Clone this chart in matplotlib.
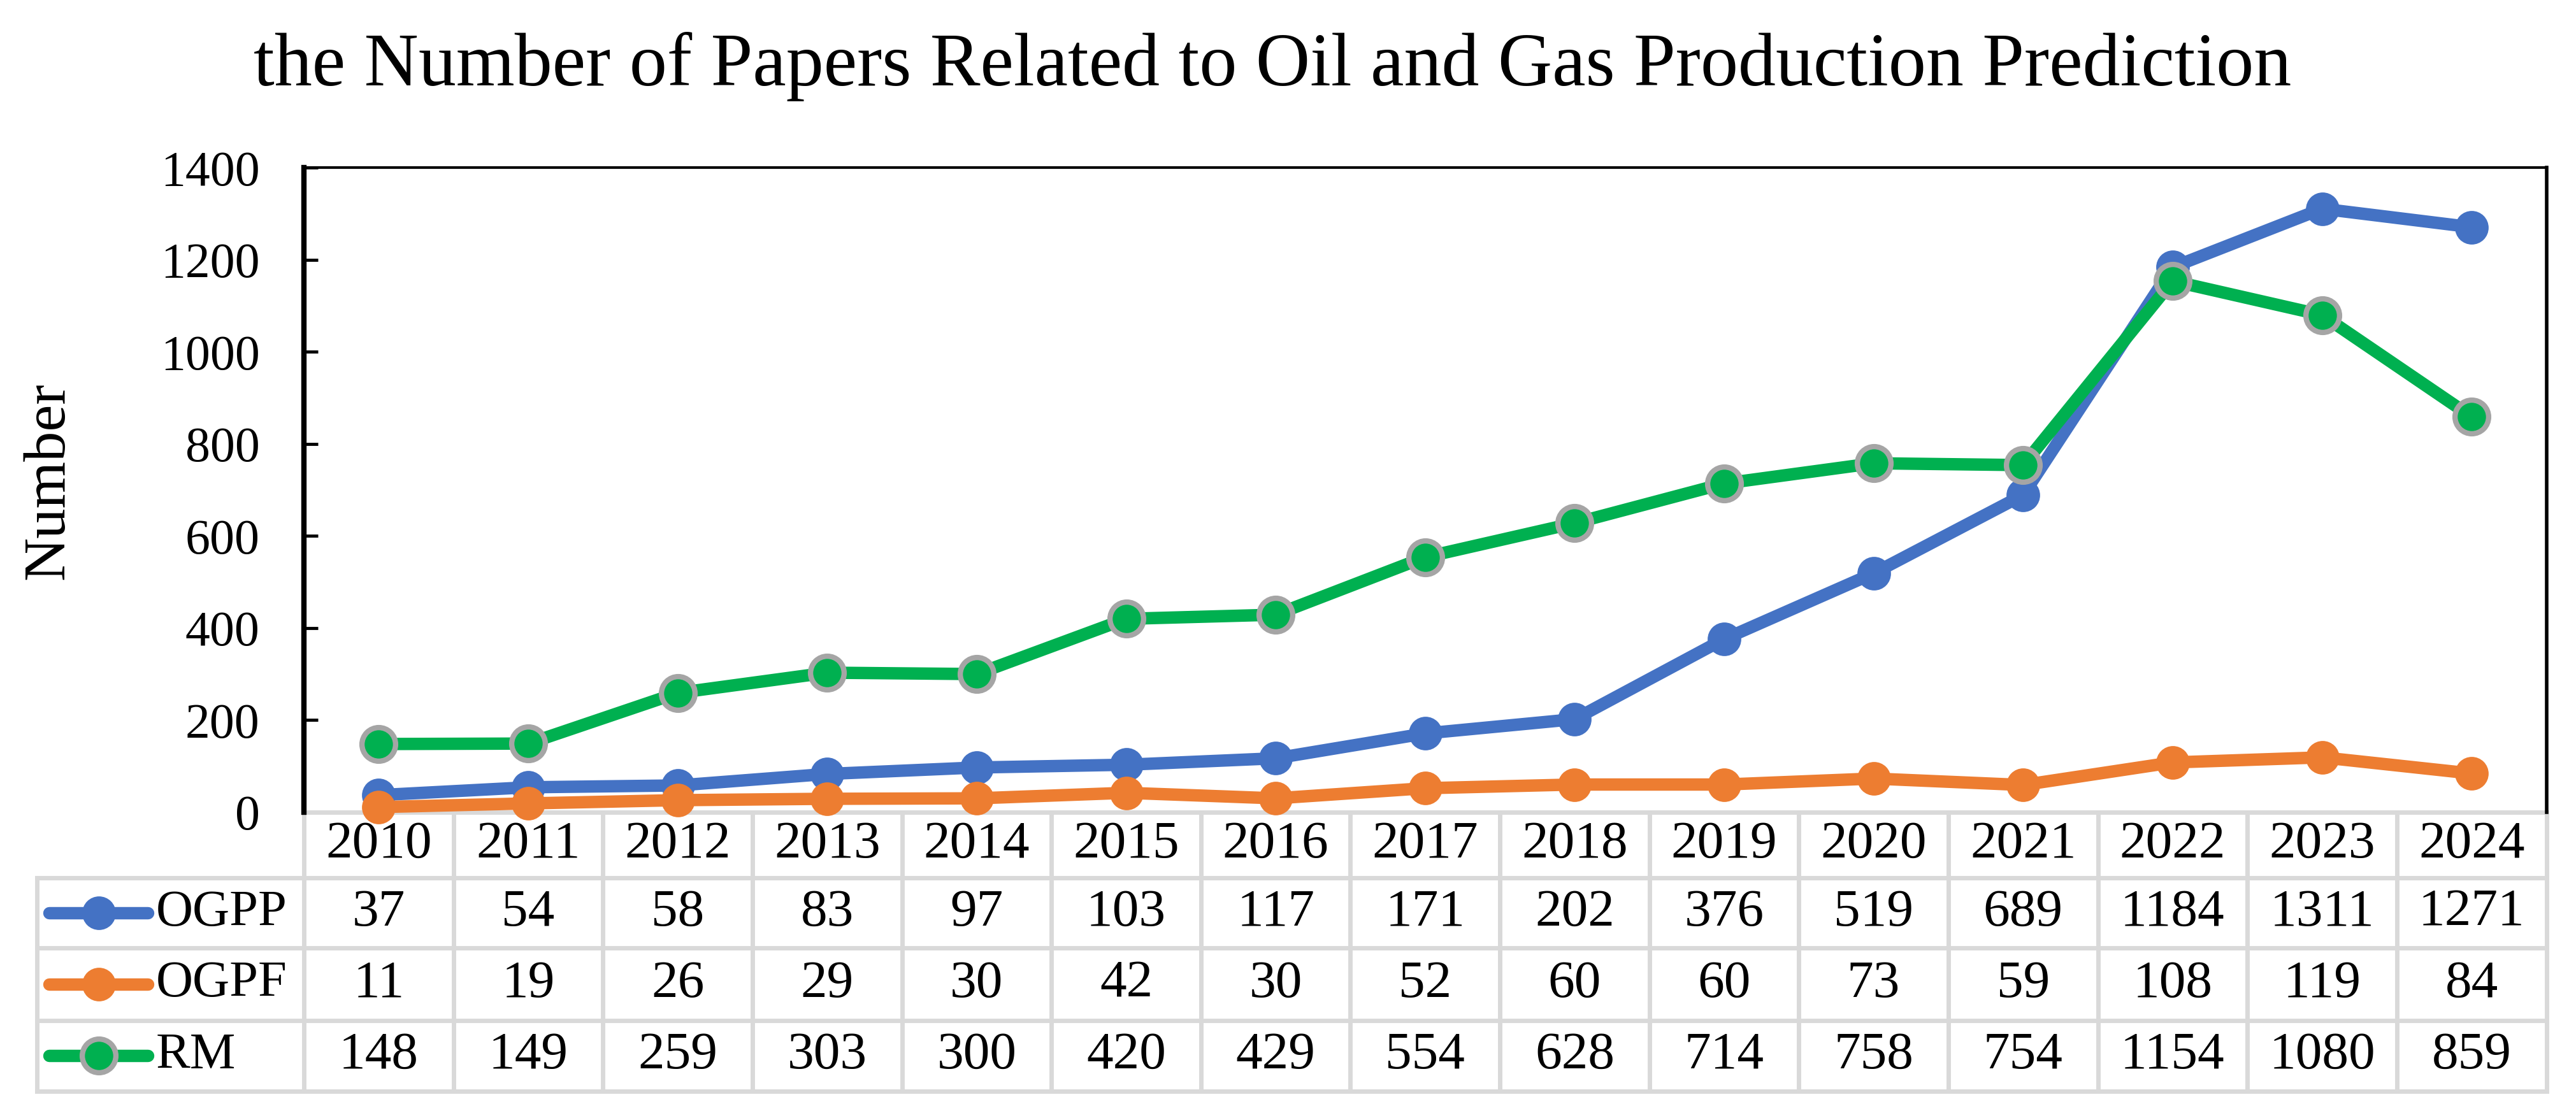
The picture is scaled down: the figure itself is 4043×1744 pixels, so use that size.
import matplotlib
matplotlib.use('Agg')
import matplotlib.pyplot as plt
import matplotlib.transforms as mtransforms

# data
years = [2010, 2011, 2012, 2013, 2014, 2015, 2016, 2017, 2018, 2019, 2020, 2021, 2022, 2023, 2024]
ogpp = [37, 54, 58, 83, 97, 103, 117, 171, 202, 376, 519, 689, 1184, 1311, 1271]
ogpf = [11, 19, 26, 29, 30, 42, 30, 52, 60, 60, 73, 59, 108, 119, 84]
rm = [148, 149, 259, 303, 300, 420, 429, 554, 628, 714, 758, 754, 1154, 1080, 859]
series_names = ['OGPP', 'OGPF', 'RM']
series_values = [ogpp, ogpf, rm]

blue = '#4472C4'
orange = '#ED7D31'
green = '#00B050'
edge_gray = '#A5A5A5'
grid_gray = '#D9D9D9'

plt.rcParams['font.family'] = ['Liberation Serif', 'DejaVu Serif']

fig = plt.figure(figsize=(40.43, 17.44), dpi=100)
ax = fig.add_axes([0.118, 0.269, 0.8705, 0.58])

x = list(range(len(years)))
styles = [
    dict(color=blue, mfc=blue, mec=blue, mew=0),
    dict(color=orange, mfc=orange, mec=orange, mew=0),
    dict(color=green, mfc=green, mec=edge_gray, mew=6),
]
for vals, st in zip(series_values, styles):
    ax.plot(x, vals, lw=14, marker='o', ms=38, clip_on=False, zorder=5, **st)

ax.set_xlim(-0.5, len(years) - 0.5)
ax.set_ylim(0, 1400)
ax.set_yticks(range(0, 1401, 200))
ax.set_xticks([])
ax.tick_params(axis='y', direction='in', length=16, width=3.5, pad=50, labelsize=56)

# spines
ax.spines['left'].set_linewidth(6)
ax.spines['top'].set_linewidth(3)
ax.spines['right'].set_linewidth(4)
ax.spines['bottom'].set_visible(False)

# title and y label
fig.text(0.494, 0.94, 'the Number of Papers Related to Oil and Gas Production Prediction',
         ha='center', va='center', fontsize=85)
fig.text(0.019, 0.567, 'Number', rotation=90, ha='center', va='center', fontsize=68)

# data table under the plot
row_lines = [0, -0.102, -0.211, -0.323, -0.433]
left_edge = -0.119
tbl_kw = dict(color=grid_gray, lw=5, clip_on=False, transform=ax.transAxes, zorder=2,
              solid_capstyle='projecting')
ax.plot([0, 1], [row_lines[0], row_lines[0]], **tbl_kw)
for yl in row_lines[1:]:
    ax.plot([left_edge, 1], [yl, yl], **tbl_kw)
ax.plot([left_edge, left_edge], [row_lines[1], row_lines[-1]], **tbl_kw)
vtrans = mtransforms.blended_transform_factory(ax.transData, ax.transAxes)
for i in range(len(years) + 1):
    ax.plot([i - 0.5, i - 0.5], [row_lines[0], row_lines[-1]], color=grid_gray, lw=5,
            clip_on=False, transform=vtrans, zorder=2, solid_capstyle='projecting')

hdr_y = (row_lines[0] + row_lines[1]) / 2
for i, yr in enumerate(years):
    ax.text(i, hdr_y, str(yr), transform=vtrans, ha='center', va='center', fontsize=60)

for r, (name, vals, st) in enumerate(zip(series_names, series_values, styles)):
    yc = (row_lines[r + 1] + row_lines[r + 2]) / 2
    for i, v in enumerate(vals):
        ax.text(i, yc, str(v), transform=vtrans, ha='center', va='center', fontsize=60)
    # legend key in the label cell
    ax.plot([-0.1136, -0.0916, -0.0696], [yc, yc, yc], transform=ax.transAxes, clip_on=False,
            lw=14, marker='o', ms=38, markevery=[1], solid_capstyle='round', **st)
    ax.text(-0.066, yc, name, transform=ax.transAxes, ha='left', va='center', fontsize=58)

fig.savefig('out.png', dpi=100, facecolor='white')
